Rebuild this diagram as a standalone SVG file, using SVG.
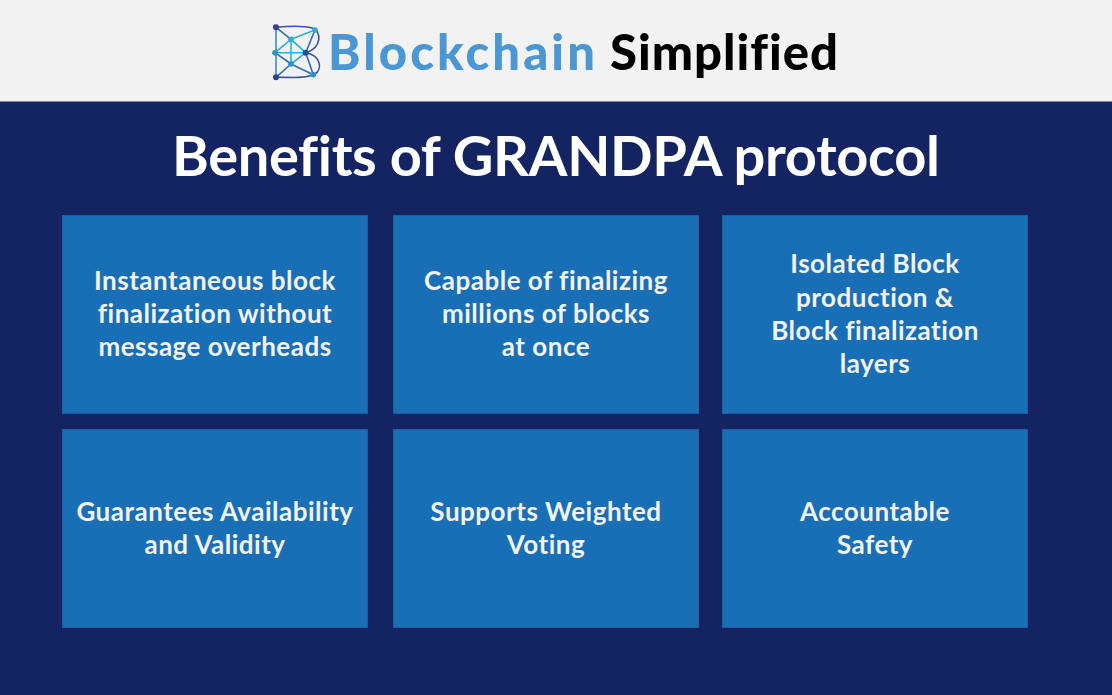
<svg xmlns="http://www.w3.org/2000/svg" width="1112" height="695" viewBox="0 0 1112 695">
<style>
text{font-variant-ligatures:none}
.box{fill:#196fb6;stroke:#1d5ea3;stroke-width:1}
.t{font-family:"Lato","Liberation Sans",sans-serif;font-size:26px;font-weight:700;fill:#f2f2f2;text-anchor:middle;letter-spacing:.5px}
.h{font-family:"Lato","Liberation Sans",sans-serif;font-weight:700}
.b{font-family:"Lato","Liberation Sans",sans-serif;font-weight:900}
.l{fill:none;stroke-width:1.6;stroke-linecap:round;stroke-linejoin:round}
</style>
<rect width="1112" height="695" fill="#f2f2f2"/>
<rect x="0" y="101.500" width="1112" height="593.500" fill="#142361"/>
<g id="logo">
<path class="l" stroke="#3a53a4" d="M276 27.300C290 26 305 26 312 28C322 31 322 48 306 52.700C322 56 322 70 315 74C305 79 290 77 276 77.300"/>
<path class="l" stroke="#2f8fc9" d="M276 27.300V77.300"/>
<path class="l" stroke="#2c6fb5" d="M276 27.300L291 39.300M315 30L305.700 52.700M275 52.700L291 64M276 77.300L291 64M291 64L313.300 74.700M305.700 52.700L313.300 74.700"/>
<path class="l" stroke="#2bb0dc" d="M291 39.300L315 30M275 52.700L291 39.300M275 52.700H305.700M291 39.300V64M291 39.300L305.700 52.700M291 64L305.700 52.700"/>
<circle cx="276" cy="27.300" r="3" fill="#2f3f98"/><circle cx="315" cy="30" r="2.800" fill="#38a9c9"/><circle cx="291" cy="39.300" r="2.800" fill="#38a9d0"/><circle cx="275" cy="52.700" r="2.800" fill="#2a93c5"/><circle cx="305.700" cy="52.700" r="3" fill="#24508f"/><circle cx="291" cy="64" r="2.800" fill="#2a93c5"/><circle cx="276" cy="77.300" r="3" fill="#2f3f98"/><circle cx="313.300" cy="74.700" r="2.800" fill="#2a93c5"/>
</g>
<text class="b" x="328" y="70" font-size="49" fill="#4b97d4" textLength="267">Blockchain</text>
<text class="b" x="610" y="70" font-size="49" fill="#000" textLength="228">Simplified</text>
<text class="h" x="556" y="176" font-size="56" fill="#fff" text-anchor="middle" textLength="768">Benefits of GRANDPA protocol</text>
<g id="n1"><rect class="box" x="62.500" y="215.500" width="305" height="198"/><text class="t" x="215" y="290">Instantaneous block</text><text class="t" x="215" y="323">finalization without</text><text class="t" x="215" y="356">message overheads</text></g>
<g id="n2"><rect class="box" x="393.500" y="215.500" width="305" height="198"/><text class="t" x="546" y="290">Capable of finalizing</text><text class="t" x="546" y="323">millions of blocks</text><text class="t" x="546" y="356">at once</text></g>
<g id="n3"><rect class="box" x="722.500" y="215.500" width="305" height="198"/><text class="t" x="875" y="273">Isolated Block</text><text class="t" x="875" y="307">production &amp;</text><text class="t" x="875" y="340">Block finalization</text><text class="t" x="875" y="373">layers</text></g>
<g id="n4"><rect class="box" x="62.500" y="429.500" width="305" height="198"/><text class="t" x="215" y="521">Guarantees Availability</text><text class="t" x="215" y="554">and Validity</text></g>
<g id="n5"><rect class="box" x="393.500" y="429.500" width="305" height="198"/><text class="t" x="546" y="521">Supports Weighted</text><text class="t" x="546" y="554">Voting</text></g>
<g id="n6"><rect class="box" x="722.500" y="429.500" width="305" height="198"/><text class="t" x="875" y="521">Accountable</text><text class="t" x="875" y="554">Safety</text></g>
<g id="connectors"/>
</svg>
